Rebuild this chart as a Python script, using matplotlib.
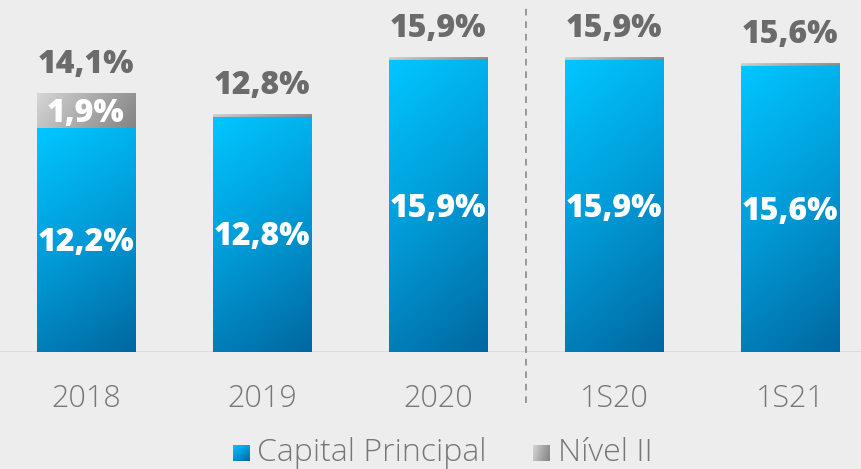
import numpy as np
import matplotlib
matplotlib.use("Agg")
import matplotlib.pyplot as plt
from matplotlib.colors import LinearSegmentedColormap

categories = ["2018", "2019", "2020", "1S20", "1S21"]
capital_principal = [12.2, 12.8, 15.9, 15.9, 15.6]
nivel_ii = [1.9, 0.0, 0.0, 0.0, 0.0]
totals = [14.1, 12.8, 15.9, 15.9, 15.6]
legend_labels = ["Capital Principal", "Nível II"]

BG = "#ededed"
W, H = 861, 469
PX = 18.36  # pixels per percentage point
fig = plt.figure(figsize=(W / 100, H / 100), dpi=100, facecolor=BG)
ax = fig.add_axes([0, 117 / H, 1, 352 / H])
ax.set_facecolor("none")
ax.set_xlim(-86 / 176, (W - 86) / 176)
ax.set_ylim(0, 352 / PX)
for s in ax.spines.values():
    s.set_visible(False)
ax.set_yticks([])

blue_cmap = LinearSegmentedColormap.from_list("b", ["#00c6ff", "#009ad6", "#0068a0"])
gray_cmap = LinearSegmentedColormap.from_list("g", ["#d6d6d6", "#aaaaaa", "#848484"])

def grad(cmap, ext, flat=False):
    n = 64
    X, Y = np.meshgrid(np.linspace(0, 1, n), np.linspace(0, 1, n))
    T = 0.8 * X + 0.2 * Y if flat else 0.85 * Y + 0.25 * X
    T = T / T.max()
    ax.imshow(T, cmap=cmap, extent=ext, origin="upper", aspect="auto",
              interpolation="bilinear", zorder=2)

LBL = dict(ha="center", va="center", fontsize=23, fontweight=800,
           family="Open Sans", zorder=4)

def fmt(v):
    return f"{v:.1f}".replace(".", ",") + "%"

bw = 0.5625
x = np.arange(len(categories))
thin = 0.16
dy = -3 / PX
for i, (c, n2, tot) in enumerate(zip(capital_principal, nivel_ii, totals)):
    l, r = x[i] - bw / 2, x[i] + bw / 2
    grad(blue_cmap, (l, r, 0, c))
    top = c + (n2 if n2 > 0 else thin)
    grad(gray_cmap, (l, r, c, top), flat=True)
    ax.text(x[i], c / 2 + dy, fmt(c), color="white", **LBL)
    if n2 > 0:
        ax.text(x[i], c + n2 / 2 + dy, fmt(n2), color="white", **LBL)
    ax.text(x[i], top + 31 / PX + dy, fmt(tot), color="#6b6b6b", **LBL)

ax.axhline(0, color="#dadada", lw=2, zorder=1)
ax.plot([2.5, 2.5], [-51 / PX, 344 / PX], color="#8a8a8a", lw=1.2,
        ls=(0, (4, 3.5)), clip_on=False, zorder=1)

ax.set_xticks(x)
ax.set_xticklabels(categories, fontsize=22, color="#777777", family="Open Sans",
                   fontweight="light")
ax.tick_params(axis="x", length=0, pad=22)

# legend
def leg_square(px, cmap, flat):
    lax = fig.add_axes([px / W, (H - 461) / H, 17 / W, 16 / H])
    n = 32
    X, Y = np.meshgrid(np.linspace(0, 1, n), np.linspace(0, 1, n))
    T = 0.8 * X + 0.2 * Y if flat else 0.6 * Y + 0.4 * X
    lax.imshow(T / T.max(), cmap=cmap, aspect="auto", interpolation="bilinear")
    lax.axis("off")

leg_square(233, blue_cmap, False)
fig.text(257 / W, (H - 461) / H, legend_labels[0], fontsize=23, color="#777777",
         family="Open Sans", fontweight="light", va="baseline", ha="left")
leg_square(533, gray_cmap, True)
fig.text(558 / W, (H - 461) / H, legend_labels[1], fontsize=23, color="#777777",
         family="Open Sans", fontweight="light", va="baseline", ha="left")

fig.savefig("out.png", dpi=100, facecolor=BG)
